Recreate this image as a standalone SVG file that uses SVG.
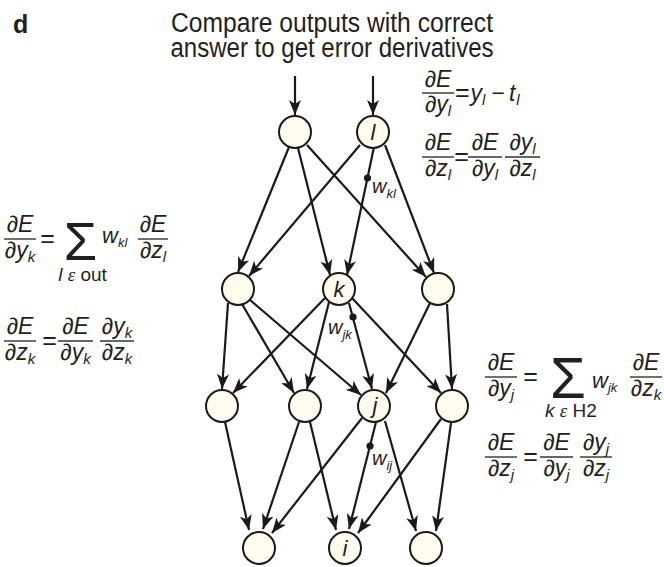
<svg xmlns="http://www.w3.org/2000/svg" width="664" height="567" viewBox="0 0 664 567">
<defs>
<style>
.t{font-family:"Liberation Sans",Arial,sans-serif;fill:#231f20}
.title{font-size:27px}
.eq{font-family:"Liberation Sans",Arial,sans-serif;font-size:23px;font-style:italic;fill:#231f20}
.mid{text-anchor:middle}
.sub{font-size:15px}
.op{font-family:"Liberation Sans",Arial,sans-serif;font-size:25px;font-style:normal;fill:#231f20}
.sig{font-family:"Liberation Sans",Arial,sans-serif;font-style:normal;fill:#231f20;text-anchor:middle}
.lim{font-family:"Liberation Sans",Arial,sans-serif;font-size:19px;fill:#231f20;text-anchor:middle}
.fl{stroke:#333;stroke-width:1.4}
.node circle{fill:#fffcef;stroke:#1a1a1a;stroke-width:2}
.nl{font-family:"Liberation Sans",Arial,sans-serif;font-size:22px;font-style:italic;fill:#231f20;text-anchor:middle}
.edges line{stroke:#1a1a1a;stroke-width:2.2;marker-end:url(#ah)}
.w{font-family:"Liberation Sans",Arial,sans-serif;font-size:20px;font-style:italic;fill:#231f20}
.we{font-size:22px}
.ws{font-size:13px}
</style>
<marker id="ah" markerUnits="userSpaceOnUse" markerWidth="15" markerHeight="12" refX="15" refY="6" orient="auto">
<path d="M0,0 L15,6 L0,12 L4,6 Z" fill="#1a1a1a"/>
</marker>
</defs>
<rect width="664" height="567" fill="#ffffff"/>

<text class="t" x="13" y="33" font-size="25" font-weight="bold">d</text>
<text class="t title" x="332" y="32" text-anchor="middle" textLength="322" lengthAdjust="spacingAndGlyphs">Compare outputs with correct</text>
<text class="t title" x="332" y="57" text-anchor="middle" textLength="323" lengthAdjust="spacingAndGlyphs">answer to get error derivatives</text>

<g id="connectors" class="edges">
<line x1="295" y1="76" x2="295" y2="115"/>
<line x1="373" y1="76" x2="373" y2="115"/>
<line x1="289" y1="147" x2="238" y2="272"/>
<line x1="360" y1="145" x2="249" y2="276"/>
<line x1="298" y1="148" x2="330" y2="275"/>
<line x1="374" y1="147" x2="347" y2="275"/>
<line x1="307" y1="145" x2="426" y2="277"/>
<line x1="385" y1="145" x2="434" y2="273"/>
<line x1="228" y1="303" x2="222" y2="389"/>
<line x1="242" y1="304" x2="294" y2="393"/>
<line x1="250" y1="300" x2="361" y2="395"/>
<line x1="325" y1="298" x2="233" y2="393"/>
<line x1="329" y1="302" x2="307" y2="389"/>
<line x1="349" y1="303" x2="372" y2="389"/>
<line x1="352" y1="298" x2="441" y2="393"/>
<line x1="430" y1="303" x2="386" y2="393"/>
<line x1="447" y1="304" x2="452" y2="389"/>
<line x1="225" y1="422" x2="249" y2="530"/>
<line x1="299" y1="422" x2="263" y2="529"/>
<line x1="310" y1="422" x2="336" y2="530"/>
<line x1="362" y1="418" x2="272" y2="533"/>
<line x1="376" y1="422" x2="349" y2="529"/>
<line x1="385" y1="421" x2="416" y2="531"/>
<line x1="441" y1="419" x2="358" y2="533"/>
<line x1="451" y1="423" x2="436" y2="531"/>
</g>

<g id="weights">
<circle cx="367.5" cy="178" r="3.6" fill="#1a1a1a"/>
<text class="w" x="372" y="193">w<tspan class="ws" dy="5">kl</tspan></text>
<circle cx="353" cy="317" r="3.6" fill="#1a1a1a"/>
<text class="w" x="328" y="334">w<tspan class="ws" dy="5">jk</tspan></text>
<circle cx="370" cy="446" r="3.6" fill="#1a1a1a"/>
<text class="w" x="372" y="465">w<tspan class="ws" dy="5">ij</tspan></text>
</g>

<g id="node-o1" class="node"><circle cx="295" cy="132" r="16"/></g>
<g id="node-l" class="node"><circle cx="373" cy="132" r="16"/><text class="nl" x="373" y="140">l</text></g>
<g id="node-h2a" class="node"><circle cx="238" cy="289" r="16"/></g>
<g id="node-k" class="node"><circle cx="339" cy="289" r="16"/><text class="nl" x="339" y="297">k</text></g>
<g id="node-h2c" class="node"><circle cx="438" cy="289" r="16"/></g>
<g id="node-h1a" class="node"><circle cx="222" cy="406" r="16"/></g>
<g id="node-h1b" class="node"><circle cx="305" cy="406" r="16"/></g>
<g id="node-j" class="node"><circle cx="374" cy="406" r="16"/><text class="nl" x="375" y="413">j</text></g>
<g id="node-h1d" class="node"><circle cx="452" cy="406" r="16"/></g>
<g id="node-in1" class="node"><circle cx="259" cy="548" r="16"/></g>
<g id="node-i" class="node"><circle cx="345" cy="548" r="16"/><text class="nl" x="345" y="556">i</text></g>
<g id="node-in3" class="node"><circle cx="426" cy="548" r="16"/></g>

<g id="eq-left">
<line class="fl" x1="4" y1="239" x2="36" y2="239"/>
<text class="eq mid" x="20" y="232">∂E</text>
<text class="eq mid" x="20" y="258">∂y<tspan class="sub" dy="4">k</tspan></text>
<text class="op mid" x="47.5" y="247">=</text>
<text class="sig" x="80.5" y="260" font-size="54">Σ</text>
<text class="lim" x="82.5" y="281"><tspan font-style="italic">l</tspan> <tspan font-style="italic" font-family="Liberation Serif">ε</tspan> out</text>
<text class="w we" x="102" y="243">w<tspan class="ws" dy="4">kl</tspan></text>
<line class="fl" x1="138" y1="239" x2="168" y2="239"/>
<text class="eq mid" x="153" y="232">∂E</text>
<text class="eq mid" x="153" y="258">∂z<tspan class="sub" dy="4">l</tspan></text>

<line class="fl" x1="4" y1="341" x2="36" y2="341"/>
<text class="eq mid" x="20" y="334">∂E</text>
<text class="eq mid" x="20" y="360">∂z<tspan class="sub" dy="4">k</tspan></text>
<text class="op mid" x="49.5" y="349">=</text>
<line class="fl" x1="58" y1="341" x2="93" y2="341"/>
<text class="eq mid" x="75.5" y="334">∂E</text>
<text class="eq mid" x="75.5" y="360">∂y<tspan class="sub" dy="4">k</tspan></text>
<line class="fl" x1="100" y1="341" x2="134" y2="341"/>
<text class="eq mid" x="117" y="334">∂y<tspan class="sub" dy="4">k</tspan></text>
<text class="eq mid" x="117" y="360">∂z<tspan class="sub" dy="4">k</tspan></text>
</g>

<g id="eq-top-right">
<line class="fl" x1="422" y1="93" x2="454" y2="93"/>
<text class="eq mid" x="438" y="87">∂E</text>
<text class="eq mid" x="438" y="112">∂y<tspan class="sub" dy="4">l</tspan></text>
<text class="eq" x="455" y="101" font-size="24"><tspan class="op">=</tspan><tspan dx="1">y</tspan><tspan class="sub" dy="4">l</tspan><tspan font-style="normal" dy="-4" dx="6">−</tspan><tspan dx="4">t</tspan><tspan class="sub" dy="4" dx="1">l</tspan></text>

<line class="fl" x1="422" y1="157" x2="454" y2="157"/>
<text class="eq mid" x="438" y="150">∂E</text>
<text class="eq mid" x="438" y="176">∂z<tspan class="sub" dy="4">l</tspan></text>
<text class="op mid" x="461.5" y="165">=</text>
<line class="fl" x1="468" y1="157" x2="502" y2="157"/>
<text class="eq mid" x="485" y="150">∂E</text>
<text class="eq mid" x="485" y="176">∂y<tspan class="sub" dy="4">l</tspan></text>
<line class="fl" x1="505" y1="157" x2="540" y2="157"/>
<text class="eq mid" x="522.5" y="150">∂y<tspan class="sub" dy="4">l</tspan></text>
<text class="eq mid" x="522.5" y="176">∂z<tspan class="sub" dy="4">l</tspan></text>
</g>

<g id="eq-bottom-right">
<line class="fl" x1="485" y1="377" x2="517" y2="377"/>
<text class="eq mid" x="501" y="370">∂E</text>
<text class="eq mid" x="501" y="396">∂y<tspan class="sub" dy="4">j</tspan></text>
<text class="op mid" x="530.5" y="385">=</text>
<text class="sig" x="568" y="398" font-size="58">Σ</text>
<text class="lim" x="571" y="417"><tspan font-style="italic">k</tspan> <tspan font-style="italic" font-family="Liberation Serif">ε</tspan> H2</text>
<text class="w we" x="592" y="388">w<tspan class="ws" dy="4">jk</tspan></text>
<line class="fl" x1="630" y1="377" x2="662" y2="377"/>
<text class="eq mid" x="646" y="370">∂E</text>
<text class="eq mid" x="646" y="396">∂z<tspan class="sub" dy="4">k</tspan></text>

<line class="fl" x1="485" y1="457" x2="517" y2="457"/>
<text class="eq mid" x="501" y="450">∂E</text>
<text class="eq mid" x="501" y="476">∂z<tspan class="sub" dy="4">j</tspan></text>
<text class="op mid" x="530.5" y="465">=</text>
<line class="fl" x1="540" y1="457" x2="573" y2="457"/>
<text class="eq mid" x="556.5" y="450">∂E</text>
<text class="eq mid" x="556.5" y="476">∂y<tspan class="sub" dy="4">j</tspan></text>
<line class="fl" x1="580" y1="457" x2="612" y2="457"/>
<text class="eq mid" x="596" y="450">∂y<tspan class="sub" dy="4">j</tspan></text>
<text class="eq mid" x="596" y="476">∂z<tspan class="sub" dy="4">j</tspan></text>
</g>
</svg>
